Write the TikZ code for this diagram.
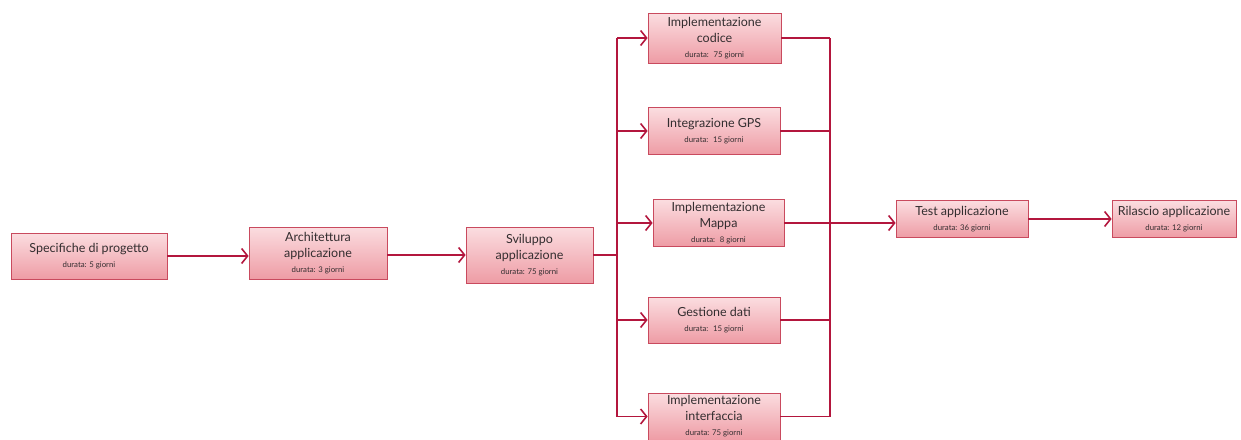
\documentclass[tikz,border=0pt]{standalone}
\usepackage{fontspec}
\setmainfont{Lato}
\usetikzlibrary{arrows.meta}

\definecolor{boxtop}{HTML}{FBDDE0}
\definecolor{boxbot}{HTML}{EE9CA5}
\definecolor{boxline}{HTML}{C94A5E}
\definecolor{conline}{HTML}{B3163D}
\definecolor{txt}{HTML}{332D2F}

\newcommand{\ttl}{\fontsize{12.5}{16}\selectfont}
\newcommand{\dur}[1]{\\[-1pt]{\fontsize{7.8}{9}\selectfont #1}}

\begin{document}
\begin{tikzpicture}[x=1pt,y=-1pt,
    task/.style={draw=boxline,line width=0.8pt,top color=boxtop,bottom color=boxbot,
        text=txt,align=center,inner sep=0pt,font=\ttl},
    con/.style={conline,line width=1.6pt},
    arr/.style={con,-{Straight Barb[length=6pt,width=15pt]}}]
    \useasboundingbox (0,0) rectangle (1241,439);
    %Phasen
    \node[task,minimum width=156,minimum height=46] (spec) at (89,256) {Specifiche di progetto\dur{durata: 5 giorni}};
    \node[task,minimum width=138,minimum height=52] (arch) at (318,253) {Architettura\\applicazione\dur{durata: 3 giorni}};
    \node[task,minimum width=127,minimum height=56] (svil) at (529.5,255) {Sviluppo\\applicazione\dur{durata: 75 giorni}};
    %parallele Aufgaben
    \node[task,minimum width=133,minimum height=50] (codice) at (714.5,38) {Implementazione\\codice\dur{durata: \ 75 giorni}};
    \node[task,minimum width=132,minimum height=47] (gps) at (714,131) {Integrazione GPS\dur{durata: \ 15 giorni}};
    \node[task,minimum width=131,minimum height=47] (mappa) at (718.5,223) {Implementazione\\Mappa\dur{durata: \ 8 giorni}};
    \node[task,minimum width=132,minimum height=46] (dati) at (714,320) {Gestione dati\dur{durata: \ 15 giorni}};
    \node[task,minimum width=132,minimum height=47] (interf) at (714,416.5) {Implementazione\\interfaccia\dur{durata: 75 giorni}};
    %Abschluss
    \node[task,minimum width=132,minimum height=37] (test) at (962,219) {Test applicazione\dur{durata: 36 giorni}};
    \node[task,minimum width=124,minimum height=37] (rilascio) at (1174,219) {Rilascio applicazione\dur{durata: 12 giorni}};

    \coordinate (busL) at (617,0);
    \coordinate (busR) at (830,0);

    \draw[arr] (spec.east) -- (arch.west |- spec.east);
    \draw[arr] (arch.east |- svil.west) -- (svil.west);
    \draw[con] (svil.east) -- (svil.east -| busL);
    \draw[con] (busL |- codice.west) -- (busL |- interf.west);
    \draw[con] (busR |- codice.east) -- (busR |- interf.east);
    \foreach \t in {codice,gps,mappa,dati,interf}{
        \draw[arr] (busL |- \t.west) -- (\t.west);
        \draw[con] (\t.east) -- (busR |- \t.east);
    }
    \draw[arr] (busR |- mappa.east) -- (test.west |- mappa.east);
    \draw[arr] (test.east) -- (rilascio.west);
\end{tikzpicture}
\end{document}
